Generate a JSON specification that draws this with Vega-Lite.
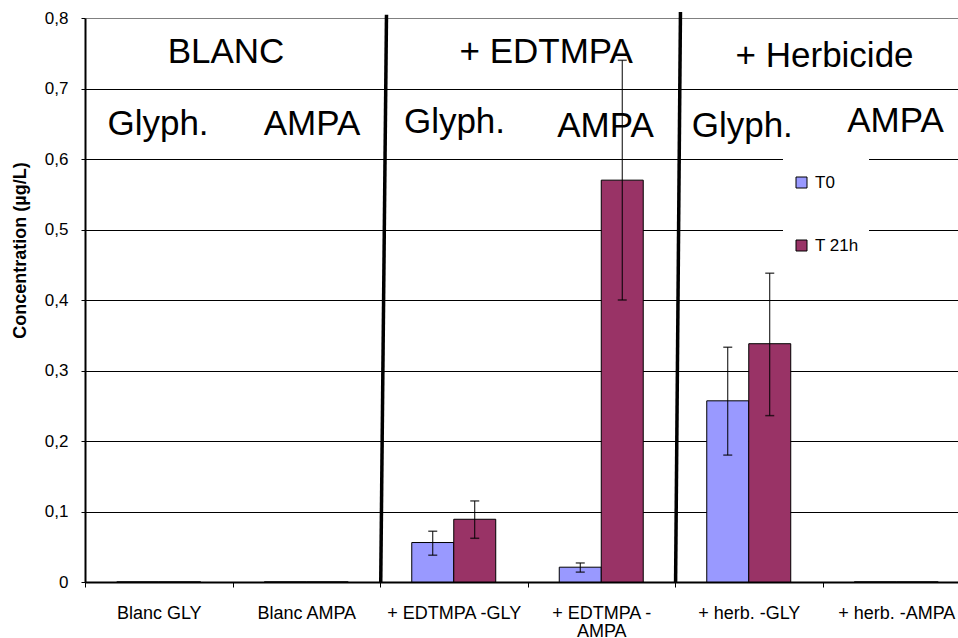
{
  "$schema": "https://vega.github.io/schema/vega-lite/v6.json",
  "width": 873,
  "height": 564,
  "autosize": {"type": "none"},
  "padding": {"left": 85, "top": 18, "right": 0, "bottom": 56},
  "background": "white",
  "config": {
    "view": {"stroke": null},
    "font": "Liberation Sans"
  },
  "datasets": {
    "bars": [
      {"sample": "Blanc GLY", "series": "T0", "value": 0, "lo": null, "hi": null},
      {"sample": "Blanc GLY", "series": "T 21h", "value": 0, "lo": null, "hi": null},
      {"sample": "Blanc AMPA", "series": "T0", "value": 0, "lo": null, "hi": null},
      {"sample": "Blanc AMPA", "series": "T 21h", "value": 0, "lo": null, "hi": null},
      {"sample": "+ EDTMPA -GLY", "series": "T0", "value": 0.056, "lo": 0.038, "hi": 0.072},
      {"sample": "+ EDTMPA -GLY", "series": "T 21h", "value": 0.089, "lo": 0.062, "hi": 0.115},
      {"sample": "+ EDTMPA - AMPA", "series": "T0", "value": 0.021, "lo": 0.014, "hi": 0.027},
      {"sample": "+ EDTMPA - AMPA", "series": "T 21h", "value": 0.57, "lo": 0.4, "hi": 0.74},
      {"sample": "+ herb. -GLY", "series": "T0", "value": 0.257, "lo": 0.18, "hi": 0.333},
      {"sample": "+ herb. -GLY", "series": "T 21h", "value": 0.338, "lo": 0.236, "hi": 0.438},
      {"sample": "+ herb. -AMPA", "series": "T0", "value": 0, "lo": null, "hi": null},
      {"sample": "+ herb. -AMPA", "series": "T 21h", "value": 0, "lo": null, "hi": null}
    ],
    "separators": [
      {"between": "BLANC / + EDTMPA", "xb": 2.005, "xt": 2.044, "yb": 0, "yt": 0.8045},
      {"between": "+ EDTMPA / + Herbicide", "xb": 4.004, "xt": 4.037, "yb": 0, "yt": 0.8085}
    ],
    "notes": [
      {"label": "BLANC", "px": 0.956, "py": 0.7357},
      {"label": "+ EDTMPA", "px": 3.127, "py": 0.7357},
      {"label": "+ Herbicide", "px": 5.014, "py": 0.7312},
      {"label": "Glyph.", "px": 0.495, "py": 0.634},
      {"label": "AMPA", "px": 1.539, "py": 0.634},
      {"label": "Glyph.", "px": 2.505, "py": 0.6364},
      {"label": "AMPA", "px": 3.529, "py": 0.6316},
      {"label": "Glyph.", "px": 4.456, "py": 0.6316},
      {"label": "AMPA", "px": 5.495, "py": 0.6387}
    ]
  },
  "layer": [
    {
      "data": {"name": "bars"},
      "layer": [
        {
          "mark": {"type": "bar", "stroke": "black", "strokeWidth": 1},
          "encoding": {
            "x": {
              "field": "sample", "type": "nominal",
              "sort": ["Blanc GLY", "Blanc AMPA", "+ EDTMPA -GLY", "+ EDTMPA - AMPA", "+ herb. -GLY", "+ herb. -AMPA"],
              "scale": {"type": "band", "paddingInner": 0, "paddingOuter": 0, "range": [0, 885]},
              "axis": {
                "title": null, "labelAngle": 0, "tickBand": "extent",
                "domainColor": "black", "domainWidth": 2,
                "tickColor": "black", "tickSize": 5, "tickWidth": 1,
                "labelFontSize": 18, "labelColor": "black", "labelPadding": 17,
                "labelFont": "Liberation Sans",
                "labelLimit": 0, "labelOverlap": false, "labelBound": false,
                "labelLineHeight": 18,
                "labelExpr": "datum.label == '+ EDTMPA - AMPA' ? ['+ EDTMPA -', 'AMPA'] : datum.label"
              }
            },
            "xOffset": {
              "field": "series", "type": "nominal", "sort": ["T0", "T 21h"],
              "scale": {"paddingInner": 0, "paddingOuter": 0.756}
            },
            "y": {
              "field": "value", "type": "quantitative",
              "title": "Concentration (µg/L)",
              "scale": {"domain": [0, 0.8], "nice": false},
              "axis": {
                "values": [0, 0.1, 0.2, 0.3, 0.4, 0.5, 0.6, 0.7, 0.8],
                "labelExpr": "replace(format(datum.value, '.1~f'), '.', ',')",
                "domainColor": "black", "domainWidth": 2,
                "tickColor": "black", "tickSize": 4, "tickWidth": 1,
                "labelFontSize": 17, "labelColor": "black", "labelPadding": 13,
                "labelFont": "Liberation Sans",
                "grid": true,
                "gridColor": {"condition": {"test": "datum.value >= 0.8", "value": "#808080"}, "value": "black"},
                "gridWidth": 1,
                "titleFont": "Liberation Sans",
                "titleFontSize": 18, "titleFontWeight": "bold", "titleColor": "black",
                "titleAngle": -90, "titleX": -65, "titleY": 232,
                "titleAlign": "center", "titleBaseline": "middle"
              }
            },
            "color": {
              "field": "series", "type": "nominal", "sort": ["T0", "T 21h"],
              "scale": {"range": ["#9999FF", "#993366"]},
              "legend": {
                "orient": "none", "legendX": 698, "legendY": 130,
                "title": " ", "titleFontSize": 12, "titlePadding": 4,
                "fillColor": "white", "padding": 10,
                "symbolType": "square", "symbolSize": 121,
                "symbolStrokeColor": "black", "symbolStrokeWidth": 1,
                "labelFontSize": 17, "labelColor": "black", "labelOffset": 5,
                "labelFont": "Liberation Sans",
                "rowPadding": 45
              }
            }
          }
        },
        {
          "transform": [{"filter": "datum.lo != null"}],
          "mark": {"type": "rule", "color": "black", "strokeWidth": 1},
          "encoding": {
            "x": {"field": "sample", "type": "nominal", "sort": ["Blanc GLY", "Blanc AMPA", "+ EDTMPA -GLY", "+ EDTMPA - AMPA", "+ herb. -GLY", "+ herb. -AMPA"]},
            "xOffset": {"field": "series", "type": "nominal", "sort": ["T0", "T 21h"]},
            "y": {"field": "lo", "type": "quantitative", "title": "Concentration (µg/L)", "scale": {"domain": [0, 0.8], "nice": false}},
            "y2": {"field": "hi"}
          }
        },
        {
          "transform": [{"filter": "datum.lo != null"}],
          "mark": {"type": "tick", "color": "black", "thickness": 1.5, "size": 9, "orient": "horizontal"},
          "encoding": {
            "x": {"field": "sample", "type": "nominal", "sort": ["Blanc GLY", "Blanc AMPA", "+ EDTMPA -GLY", "+ EDTMPA - AMPA", "+ herb. -GLY", "+ herb. -AMPA"]},
            "xOffset": {"field": "series", "type": "nominal", "sort": ["T0", "T 21h"]},
            "y": {"field": "lo", "type": "quantitative", "title": "Concentration (µg/L)", "scale": {"domain": [0, 0.8], "nice": false}}
          }
        },
        {
          "transform": [{"filter": "datum.hi != null"}],
          "mark": {"type": "tick", "color": "black", "thickness": 1.5, "size": 9, "orient": "horizontal"},
          "encoding": {
            "x": {"field": "sample", "type": "nominal", "sort": ["Blanc GLY", "Blanc AMPA", "+ EDTMPA -GLY", "+ EDTMPA - AMPA", "+ herb. -GLY", "+ herb. -AMPA"]},
            "xOffset": {"field": "series", "type": "nominal", "sort": ["T0", "T 21h"]},
            "y": {"field": "hi", "type": "quantitative", "title": "Concentration (µg/L)", "scale": {"domain": [0, 0.8], "nice": false}}
          }
        }
      ]
    },
    {
      "layer": [
        {
          "data": {"name": "separators"},
          "mark": {"type": "rule", "color": "black", "strokeWidth": 3.5},
          "encoding": {
            "x": {"field": "xb", "type": "quantitative", "scale": {"domain": [0, 6], "range": [0, 885], "nice": false, "zero": false}, "axis": null},
            "x2": {"field": "xt"},
            "y": {"field": "yb", "type": "quantitative", "title": "Concentration (µg/L)", "scale": {"domain": [0, 0.8], "nice": false}},
            "y2": {"field": "yt"}
          }
        },
        {
          "data": {"name": "notes"},
          "mark": {"type": "text", "fontSize": 35, "font": "Liberation Sans", "baseline": "alphabetic", "align": "center", "color": "black"},
          "encoding": {
            "x": {"field": "px", "type": "quantitative", "scale": {"domain": [0, 6], "range": [0, 885], "nice": false, "zero": false}, "axis": null},
            "y": {"field": "py", "type": "quantitative", "title": "Concentration (µg/L)", "scale": {"domain": [0, 0.8], "nice": false}},
            "text": {"field": "label"}
          }
        }
      ]
    }
  ],
  "resolve": {"scale": {"x": "independent"}, "axis": {"x": "independent"}}
}
